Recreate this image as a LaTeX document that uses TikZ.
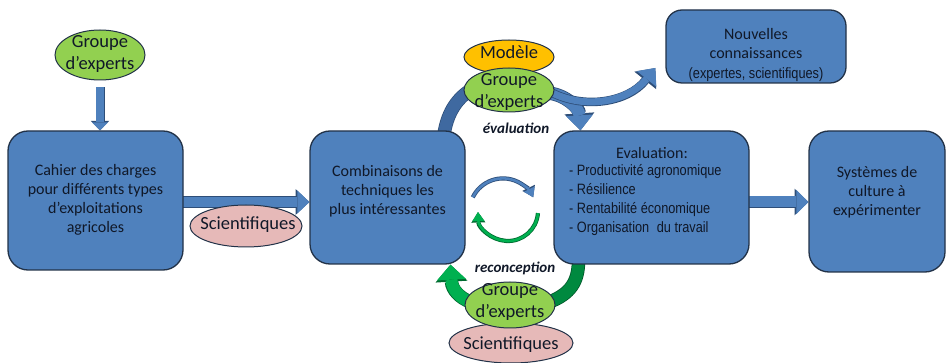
\documentclass[tikz,border=0pt]{standalone}
\usepackage{fontspec}
\setmainfont{Carlito}
\newfontfamily\narrowfont[FakeStretch=0.85]{Liberation Sans}
\usetikzlibrary{arrows.meta,shapes.geometric,calc}
\definecolor{boxblue}{HTML}{4F81BD}
\definecolor{boxedge}{HTML}{223248}
\definecolor{arrowedge}{HTML}{2E4E78}
\definecolor{darkarc}{HTML}{3F69A0}
\definecolor{grp}{HTML}{92D050}
\definecolor{modele}{HTML}{FFC000}
\definecolor{sci}{HTML}{E6B9B8}
\definecolor{greenA}{HTML}{00B050}
\definecolor{greenAedge}{HTML}{006B30}
\definecolor{greenB}{HTML}{00893F}
\definecolor{greenBedge}{HTML}{005528}
\definecolor{txt}{HTML}{101828}
\pgfdeclarelayer{bg}
\pgfsetlayers{bg,main}
\tikzset{
  box/.style={draw=boxedge, line width=1.3pt, fill=boxblue, rounded corners=20pt, inner sep=0pt},
  ell/.style={ellipse, draw=boxedge, line width=1pt, inner sep=0pt},
  lbl/.style={text=txt, align=center, inner sep=0pt, font=\fontsize{16}{19}\selectfont},
  big/.style={text=txt, align=center, inner sep=0pt, font=\fontsize{18.5}{22}\selectfont},
  tag/.style={text=txt, inner sep=0pt, font=\fontsize{15}{18}\selectfont\bfseries\itshape},
  narrow/.style={text=txt, align=left, inner sep=0pt, font=\narrowfont\fontsize{15}{19}\selectfont},
  barrow/.style n args={8}{draw=#1, line width=#3, -{Triangle[length=#5,width=#7,line width=0pt]},
     preaction={draw=#2, line width=#4, -{Triangle[length=#6,width=#8,line width=0pt]}}},
  bshaft/.style n args={4}{draw=#1, line width=#3, preaction={draw=#2, line width=#4}},
}
\begin{document}
\begin{tikzpicture}[x=1pt,y=-1pt]
\useasboundingbox (0,0) rectangle (948,363);

% boxes
\node[box, minimum width=175pt, minimum height=139pt] (b1) at (95.5,200.5) {};
\node[box, minimum width=155pt, minimum height=133pt] (b2) at (387.5,197.5) {};
\node[box, minimum width=195pt, minimum height=133pt] (b3) at (651.5,197.5) {};
\node[box, minimum width=136pt, minimum height=141pt] (b4) at (877,201.5) {};
\node[box, rounded corners=16pt, minimum width=180pt, minimum height=73pt] (b5) at (756,46.5) {};

\node[lbl] (b1t) at (95.5,200) {Cahier des charges\\pour différents types\\d’exploitations\\agricoles};
\node[lbl] (b2t) at (387.5,191) {Combinaisons de\\techniques les\\plus intéressantes};
\node[lbl] (b3h) at (652,153) {Evaluation:};
\node[narrow, anchor=west] (b3l) at (569,200) {- Productivité agronomique\\- Résilience\\- Rentabilité économique\\- Organisation\hspace{4pt} du travail};
\node[lbl] (b4t) at (877,192) {Systèmes de\\culture à\\expérimenter};
\node[lbl] (b5t) at (756,44) {Nouvelles\\connaissances};
\node[narrow, align=center] (b5n) at (756,75) {(expertes, scientifiques)};

% ellipses
\node[ell, fill=grp, minimum width=90pt, minimum height=50pt] (e1) at (100,55) {};
\node[big] (e1t) at (100,54) {Groupe\\d’experts};
\node[ell, fill=sci, minimum width=112pt, minimum height=42pt] (s1) at (246,226) {};
\node[big] (s1t) at (248,225) {Scientifiques};
\node[ell, fill=modele, minimum width=90pt, minimum height=34pt] (mod) at (509,57) {};
\node[big] (modt) at (509,52) {Modèle};
\node[ell, fill=grp, minimum width=90pt, minimum height=44pt] (e2) at (509,90) {};
\node[big] (e2t) at (509,92) {Groupe\\d’experts};
\node[ell, fill=sci, minimum width=124pt, minimum height=40pt] (s2) at (511,343) {};
\node[big] (s2t) at (511,345) {Scientifiques};
\node[ell, fill=grp, minimum width=90pt, minimum height=46pt] (e3) at (510,305) {};
\node[big] (e3t) at (510,302) {Groupe\\d’experts};

\node[tag] (tev) at (516,128) {évaluation};
\node[tag] (trc) at (515,268) {reconception};

% cycle arrows
\coordinate (cycB) at (503,212);
\coordinate (cycG) at (508,211);
\draw[barrow={boxblue}{arrowedge}{2.6pt}{4.2pt}{9pt}{10.5pt}{12pt}{14pt}]
  ($(cycB)+(206:33.6)$) arc[start angle=206, end angle=334, radius=33.6];
\draw[barrow={greenA}{greenAedge}{2.6pt}{4.2pt}{9pt}{10.5pt}{12pt}{14pt}]
  ($(cycG)+(4:30)$) arc[start angle=4, end angle=178, radius=30];

\begin{pgfonlayer}{bg}
  % straight block arrows
  \draw[barrow={boxblue}{arrowedge}{7.5pt}{9pt}{8pt}{9.5pt}{16pt}{18.5pt}]
    ($(e1.south)+(0,7)$) -- (e1.south |- b1.north);
  \draw[barrow={boxblue}{arrowedge}{10pt}{11.5pt}{12pt}{13.8pt}{23pt}{25.8pt}]
    ($(b1.east)+(-2,1.5)$) -- ($(b2.west)+(0,4.5)$);
  \draw[barrow={boxblue}{arrowedge}{11pt}{12.5pt}{12pt}{13.8pt}{24pt}{26.8pt}]
    ($(b3.east)+(-2,4.5)$) -- ($(b4.west)+(0,0.5)$);
  % curved arrows
  \draw[bshaft={darkarc}{arrowedge}{12pt}{13.5pt}]
    ($(b2.north)+(56.5,4)$) .. controls (447,115) and (455,100) .. ($(e2.west)+(7,0)$);
  \draw[barrow={boxblue}{arrowedge}{12pt}{13.5pt}{15pt}{17pt}{27pt}{30pt}]
    ($(e2.east)+(-6,3)$) .. controls (566,95) and (579,108) .. ($(b3.north)+(-71,0)$);
  \draw[barrow={boxblue}{arrowedge}{7pt}{8.5pt}{14pt}{16pt}{25pt}{28pt}]
    ($(e2.east)+(-4,2)$) .. controls (585,110) and (628,102) .. ($(b5.west)+(-10,21.5)$);
  \draw[bshaft={greenB}{greenBedge}{12pt}{13.5pt}]
    ($(b3.south)+(-73,-4)$) .. controls (578.5,282) and (570,294) .. ($(e3.east)+(-6,-3)$);
  \draw[barrow={greenA}{greenAedge}{12pt}{13.5pt}{15pt}{17pt}{29pt}{32pt}]
    ($(e3.west)+(6,-3)$) .. controls (460,298) and (452,290) .. ($(b2.south)+(63,0)$);
\end{pgfonlayer}
\end{tikzpicture}
\end{document}
